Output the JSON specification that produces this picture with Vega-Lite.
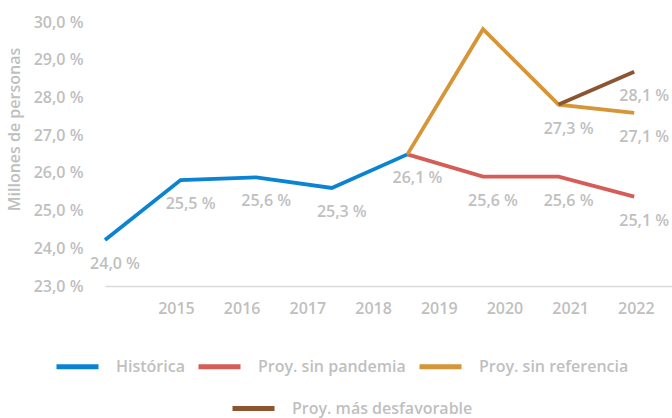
{
  "$schema": "https://vega.github.io/schema/vega-lite/v6.json",
  "width": 567,
  "height": 264,
  "autosize": {"type": "none"},
  "padding": {"left": 105, "top": 22, "right": 0, "bottom": 132},
  "background": "white",
  "config": {
    "view": {"stroke": null},
    "font": "Open Sans",
    "axis": {
      "labelFont": "Open Sans",
      "labelFontSize": 16,
      "labelFontWeight": 600,
      "labelColor": "#bfbfbf",
      "titleFont": "Open Sans",
      "titleFontSize": 16,
      "titleFontWeight": 600,
      "titleColor": "#bfbfbf",
      "grid": false,
      "ticks": false,
      "tickSize": 0,
      "domain": false,
      "labelOverlap": false,
      "labelFlush": false
    },
    "legend": {
      "labelFont": "Open Sans",
      "labelFontSize": 16,
      "labelFontWeight": 600,
      "labelColor": "#bfbfbf",
      "labelLimit": 400,
      "symbolType": "stroke",
      "symbolStrokeWidth": 5,
      "symbolSize": 1764,
      "labelOffset": 15,
      "columnPadding": 3,
      "padding": 0,
      "title": null
    }
  },
  "datasets": {
    "series": [
      {"year": 2015, "value": 24.22, "series": "Histórica", "label": "24,0 %"},
      {"year": 2016, "value": 25.81, "series": "Histórica", "label": "25,5 %"},
      {"year": 2017, "value": 25.88, "series": "Histórica", "label": "25,6 %"},
      {"year": 2018, "value": 25.6, "series": "Histórica", "label": "25,3 %"},
      {"year": 2019, "value": 26.49, "series": "Histórica", "label": "26,1 %"},
      {"year": 2019, "value": 26.49, "series": "Proy. sin pandemia", "label": ""},
      {"year": 2020, "value": 25.9, "series": "Proy. sin pandemia", "label": "25,6 %"},
      {"year": 2021, "value": 25.9, "series": "Proy. sin pandemia", "label": "25,6 %"},
      {"year": 2022, "value": 25.37, "series": "Proy. sin pandemia", "label": "25,1 %"},
      {"year": 2019, "value": 26.49, "series": "Proy. sin referencia", "label": ""},
      {"year": 2020, "value": 29.81, "series": "Proy. sin referencia", "label": ""},
      {"year": 2021, "value": 27.81, "series": "Proy. sin referencia", "label": "27,3 %"},
      {"year": 2022, "value": 27.59, "series": "Proy. sin referencia", "label": "27,1 %"},
      {"year": 2021, "value": 27.81, "series": "Proy. más desfavorable", "label": ""},
      {"year": 2022, "value": 28.68, "series": "Proy. más desfavorable", "label": "28,1 %"}
    ],
    "years": [
      {"year": 2015}, {"year": 2016}, {"year": 2017}, {"year": 2018},
      {"year": 2019}, {"year": 2020}, {"year": 2021}, {"year": 2022}
    ]
  },
  "layer": [
    {
      "data": {"name": "series"},
      "encoding": {
        "x": {"field": "year", "type": "quantitative", "scale": {"domain": [2015, 2022.5], "nice": false, "zero": false}, "axis": null},
        "y": {
          "field": "value", "type": "quantitative",
          "scale": {"domain": [23, 30], "nice": false, "zero": false},
          "axis": {
            "values": [23, 24, 25, 26, 27, 28, 29, 30],
            "tickCount": 8,
            "labelExpr": "replace(format(datum.value, '.1f'), '.', ',') + ' %'",
            "labelPadding": 22,
            "labelOverlap": false,
            "labelSeparation": 0,
            "title": "Millones de personas",
            "titleX": -91,
            "titleY": 107,
            "titleAngle": -90,
            "titleAlign": "center",
            "titleBaseline": "middle"
          }
        }
      },
      "layer": [
        {
          "transform": [{"filter": "datum.series !== 'Proy. más desfavorable'"}],
          "mark": {"type": "line", "strokeWidth": 3.8},
          "encoding": {
            "color": {
              "field": "series", "type": "nominal",
              "scale": {"domain": ["Histórica", "Proy. sin pandemia", "Proy. sin referencia"], "range": ["#0b83d3", "#d55c57", "#d69536"]},
              "legend": {"orient": "none", "direction": "horizontal", "legendX": -51, "legendY": 321}
            }
          }
        },
        {
          "transform": [{"filter": "datum.series === 'Proy. más desfavorable'"}],
          "mark": {"type": "line", "strokeWidth": 3.8},
          "encoding": {
            "stroke": {
              "field": "series", "type": "nominal",
              "scale": {"domain": ["Proy. más desfavorable"], "range": ["#8c5532"]},
              "legend": {"orient": "none", "direction": "horizontal", "legendX": 125, "legendY": 363}
            }
          }
        },
        {
          "transform": [{"filter": "datum.label !== ''"}],
          "mark": {"type": "text", "dx": 10, "dy": 24, "align": "center", "baseline": "middle", "font": "Open Sans", "fontSize": 16, "fontWeight": 600, "color": "#bfbfbf"},
          "encoding": {
            "text": {"field": "label", "type": "nominal"}
          }
        }
      ]
    },
    {
      "data": {"name": "years"},
      "mark": {"type": "point", "opacity": 0},
      "encoding": {
        "x": {
          "field": "year", "type": "quantitative",
          "scale": {"domain": [2013.92, 2022.55], "nice": false, "zero": false},
          "axis": {
            "orient": "bottom",
            "values": [2015, 2016, 2017, 2018, 2019, 2020, 2021, 2022],
            "format": "d",
            "labelPadding": 14,
            "labelFlush": false,
            "labelOverlap": false,
            "domain": true,
            "domainColor": "#d9d9d9",
            "domainWidth": 1.5,
            "title": null
          }
        }
      }
    }
  ],
  "resolve": {"scale": {"x": "independent"}, "axis": {"x": "independent"}}
}
